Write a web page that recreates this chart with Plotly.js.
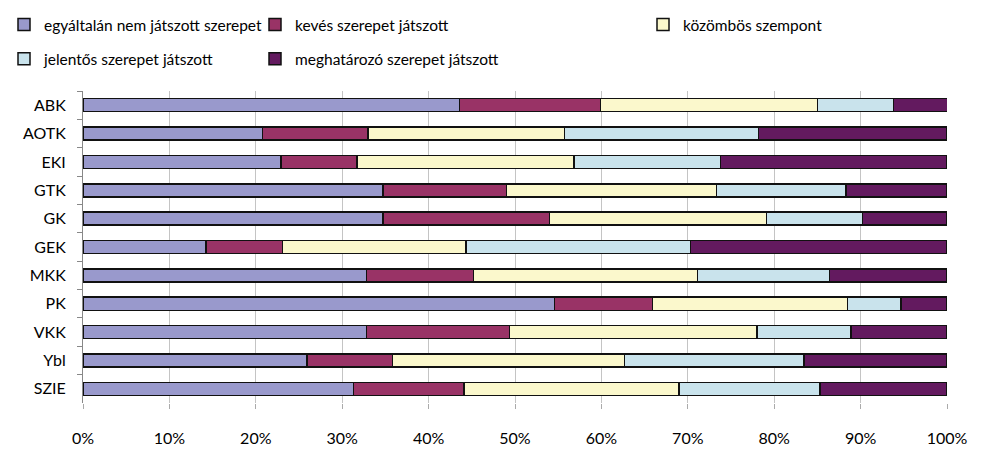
<!DOCTYPE html>
<html>
<head>
<meta charset="utf-8">
<script src="https://cdn.plot.ly/plotly-3.0.1.min.js"></script>
<style>html,body{margin:0;padding:0;background:#fff;}#chart{width:1001px;height:462px;}</style>
</head>
<body>
<div id="chart"></div>
<script>
const categories = ["ABK","AOTK","EKI","GTK","GK","GEK","MKK","PK","VKK","Ybl","SZIE"];
const seriesNames = ["egyáltalán nem játszott szerepet","kevés szerepet játszott","közömbös szempont","jelentős szerepet játszott","meghatározó szerepet játszott"];
const egyaltalanNem = [43.6, 20.8, 22.9, 34.7, 34.7, 14.25, 32.8, 54.6, 32.8, 25.9, 31.3];
const keves          = [16.3, 12.2,  8.8, 14.3, 19.3,  8.85, 12.4, 11.3, 16.55, 9.95, 12.8];
const kozombos       = [25.1, 22.7, 25.1, 24.3, 25.1, 21.2, 25.9, 22.6, 28.65, 26.85, 24.9];
const jelentos       = [8.8, 22.5, 17.0, 15.0, 11.1, 26.0, 15.3, 6.2, 10.9, 20.75, 16.3];
const meghatarozo    = [6.25, 21.8, 26.2, 11.7, 9.8, 29.7, 13.6, 5.3, 11.1, 16.55, 14.7];
const tickVals = [0,10,20,30,40,50,60,70,80,90,100];
const tickText = ["0%","10%","20%","30%","40%","50%","60%","70%","80%","90%","100%"];

const seriesValues = [egyaltalanNem, keves, kozombos, jelentos, meghatarozo];
const colors = ["#9999CC","#993366","#FBF8CC","#C9E3EC","#631A5F"];
const legendIds = ["legend","legend2","legend3","legend","legend2"];

const FONT = "Lato, 'Liberation Sans', sans-serif";
const traces = seriesValues.map((vals, i) => ({
  type: "bar",
  orientation: "h",
  name: seriesNames[i],
  x: vals,
  y: categories,
  legend: legendIds[i],
  legendgroup: "g" + i,
  marker: {color: colors[i], line: {color: "#111", width: 1.5}},
  hoverinfo: "x+y+name"
}));

const legendCommon = {
  orientation: "v",
  xref: "container", yref: "container",
  xanchor: "left", yanchor: "top",
  font: {family: FONT, size: 15.5, color: "#000"},
  tracegroupgap: 11,
  bgcolor: "rgba(0,0,0,0)",
  itemclick: false, itemdoubleclick: false
};

const layout = {
  width: 1001, height: 462,
  margin: {l: 82.5, r: 54.3, t: 91.3, b: 58.8, autoexpand: false},
  paper_bgcolor: "#fff", plot_bgcolor: "#fff",
  barmode: "stack",
  bargap: 0.54,
  showlegend: true,
  font: {family: FONT, size: 16, color: "#000"},
  xaxis: {
    range: [0, 100],
    tickvals: tickVals, ticktext: tickText,
    showgrid: true, gridcolor: "#C4C4C4", gridwidth: 1,
    zeroline: false, showline: false,
    ticks: "outside", ticklen: 5, tickcolor: "#AAAAAA",
    ticklabelstandoff: 16,
    tickangle: 0,
    automargin: false,
    tickfont: {family: FONT, size: 16, color: "#000"},
    fixedrange: true
  },
  yaxis: {
    type: "category",
    autorange: "reversed",
    showline: true, linecolor: "#888888", linewidth: 1,
    ticks: "outside", tickson: "boundaries", ticklen: 5, tickcolor: "#888888",
    ticklabelstandoff: 13,
    automargin: false,
    showgrid: false, zeroline: false,
    tickfont: {family: FONT, size: 16, color: "#000"},
    fixedrange: true
  },
  legend: Object.assign({}, legendCommon, {x: 4/1001, y: 1 - 8/462}),
  legend2: Object.assign({}, legendCommon, {x: 255/1001, y: 1 - 8/462}),
  legend3: Object.assign({}, legendCommon, {x: 643/1001, y: 1 - 8/462})
};

Plotly.newPlot("chart", traces, layout, {displayModeBar: false, staticPlot: false});
</script>
</body>
</html>
